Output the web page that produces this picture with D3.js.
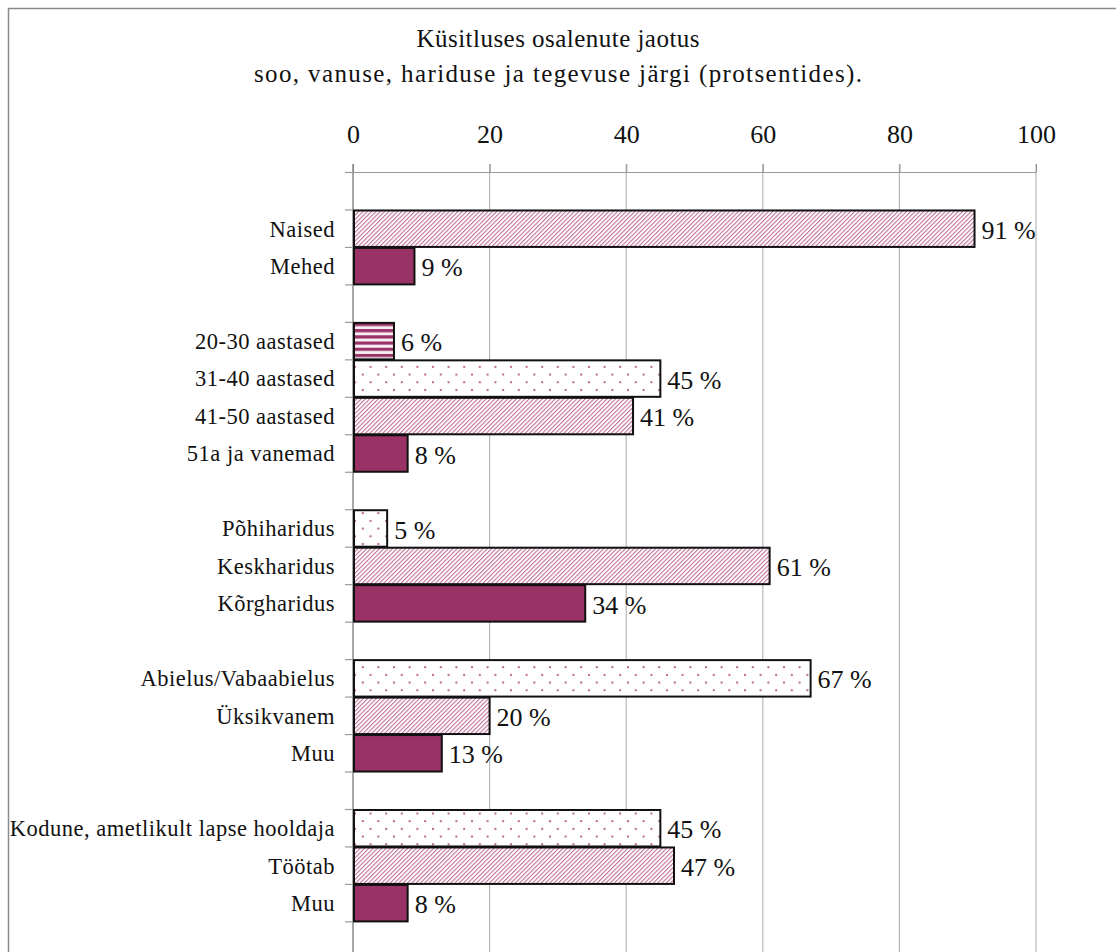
<!DOCTYPE html>
<html>
<head>
<meta charset="utf-8">
<script src="https://cdn.jsdelivr.net/npm/d3@7"></script>
<style>
  html, body { margin: 0; padding: 0; background: #fff; }
  svg { display: block; font-family: "Liberation Serif", "Times New Roman", serif; }
</style>
</head>
<body>
<svg id="chart" width="1116" height="952"></svg>
<script>
// ---- data ----
const titleLines = ["Küsitluses osalenute jaotus", "soo, vanuse, hariduse ja tegevuse järgi (protsentides)."];
const groupSex = ["Naised", "Mehed"];
const valuesSex = [91, 9];
const groupAge = ["20-30 aastased", "31-40 aastased", "41-50 aastased", "51a ja vanemad"];
const valuesAge = [6, 45, 41, 8];
const groupEdu = ["Põhiharidus", "Keskharidus", "Kõrgharidus"];
const valuesEdu = [5, 61, 34];
const groupFamily = ["Abielus/Vabaabielus", "Üksikvanem", "Muu"];
const valuesFamily = [67, 20, 13];
const groupWork = ["Kodune, ametlikult lapse hooldaja", "Töötab", "Muu"];
const valuesWork = [45, 47, 8];
const xTicks = [0, 20, 40, 60, 80, 100];

// fill style keys per group (styles, not data)
const fillSex = ["diag", "solid"];
const fillAge = ["hstripe", "dots", "diag", "solid"];
const fillEdu = ["dots", "diag", "solid"];
const fillFamily = ["dots", "diag", "solid"];
const fillWork = ["dots", "diag", "solid"];

const groups = [
  [groupSex, valuesSex, fillSex],
  [groupAge, valuesAge, fillAge],
  [groupEdu, valuesEdu, fillEdu],
  [groupFamily, valuesFamily, fillFamily],
  [groupWork, valuesWork, fillWork]
];

// build slot list: a blank slot before each group and one at the end
const slots = [];
groups.forEach(([cats, vals, fills]) => {
  slots.push({ id: slots.length, label: "", value: null });
  cats.forEach((c, i) => slots.push({ id: slots.length, label: c, value: vals[i], fill: fills[i] }));
});
slots.push({ id: slots.length, label: "", value: null });

const svg = d3.select("#chart");
const COLOR = "#993366";

// ---- patterns ----
const defs = svg.append("defs");
const pDiag = defs.append("pattern").attr("id", "diag").attr("patternUnits", "userSpaceOnUse")
  .attr("width", 3.05).attr("height", 3.05).attr("patternTransform", "rotate(45)");
pDiag.append("rect").attr("width", 3.05).attr("height", 3.05).attr("fill", "#fff");
pDiag.append("rect").attr("width", 1.1).attr("height", 3.05).attr("fill", "#c27299");

const pH = defs.append("pattern").attr("id", "hstripe").attr("patternUnits", "userSpaceOnUse")
  .attr("width", 6).attr("height", 6.2).attr("y", 0.5);
pH.append("rect").attr("width", 6).attr("height", 6.2).attr("fill", "#f6eef2");
pH.append("rect").attr("width", 6).attr("height", 3.2).attr("fill", COLOR);

const pDots = defs.append("pattern").attr("id", "dots").attr("patternUnits", "userSpaceOnUse")
  .attr("width", 15.6).attr("height", 15.4).attr("x", 2).attr("y", 3);
pDots.append("rect").attr("width", 15.6).attr("height", 15.4).attr("fill", "#fff");
pDots.append("circle").attr("cx", 2).attr("cy", 2).attr("r", 1.1).attr("fill", "#b04a80");
pDots.append("circle").attr("cx", 9.8).attr("cy", 9.7).attr("r", 1.1).attr("fill", "#b04a80");

const fillFor = k => k === "solid" ? COLOR : `url(#${k})`;

// ---- scales ----
const x = d3.scaleLinear().domain([0, 100]).range([353, 1036]);
const y = d3.scaleBand().domain(slots.map(d => d.id)).range([172.5, 172.5 + 37.47 * slots.length]).padding(0);

// outer border
svg.append("rect").attr("x", 8.5).attr("y", 8.5).attr("width", 1130).attr("height", 980)
  .attr("fill", "none").attr("stroke", "#8a8a8a").attr("stroke-width", 1.5);

// title
const titleCx = 558;
svg.append("text").attr("x", titleCx).attr("y", 47).attr("text-anchor", "middle")
  .attr("font-size", 25).attr("fill", "#111")
  .attr("textLength", 283).attr("lengthAdjust", "spacing").text(titleLines[0]);
svg.append("text").attr("x", titleCx).attr("y", 82).attr("text-anchor", "middle")
  .attr("font-size", 25).attr("fill", "#111")
  .attr("textLength", 608).attr("lengthAdjust", "spacing").text(titleLines[1]);

// gridlines
const yTop = 164, yBottom = 990;
svg.append("g").selectAll("line").data(xTicks.filter(t => t > 0)).join("line")
  .attr("x1", d => x(d)).attr("x2", d => x(d)).attr("y1", yTop).attr("y2", yBottom)
  .attr("stroke", "#b8b8b8").attr("stroke-width", 1.2);

// top axis
const axisTop = d3.axisTop(x).tickValues(xTicks).tickSize(8).tickPadding(21).tickSizeOuter(0);
const gx = svg.append("g").attr("transform", "translate(0,172)").call(axisTop);
gx.select(".domain").attr("stroke", "#9a9a9a").attr("stroke-width", 1.2);
gx.selectAll(".tick line").attr("stroke", "#9a9a9a").attr("stroke-width", 1.2);
gx.selectAll(".tick text").attr("font-size", 26).attr("font-family", "Liberation Serif, serif").attr("fill", "#111");

// left axis line
svg.append("line").attr("x1", x(0)).attr("x2", x(0)).attr("y1", yTop).attr("y2", yBottom)
  .attr("stroke", "#8a8a8a").attr("stroke-width", 1.5);

// y tick marks at band boundaries
const boundaries = slots.map(d => y(d.id));
svg.append("g").selectAll("line").data(boundaries).join("line")
  .attr("x1", x(0) - 8).attr("x2", x(0)).attr("y1", d => d).attr("y2", d => d)
  .attr("stroke", "#9a9a9a").attr("stroke-width", 1.2);

const bars = slots.filter(d => d.value !== null);

// bars
svg.append("g").selectAll("rect").data(bars).join("rect")
  .attr("x", x(0) + 1).attr("y", d => y(d.id) + 0.5)
  .attr("width", d => x(d.value) - x(0) - 1).attr("height", y.bandwidth() - 1)
  .attr("fill", d => fillFor(d.fill))
  .attr("stroke", "#111").attr("stroke-width", 2);

// category labels
svg.append("g").selectAll("text").data(bars).join("text")
  .attr("x", x(0) - 18).attr("y", d => y(d.id) + y.bandwidth() / 2)
  .attr("dy", "0.35em").attr("text-anchor", "end")
  .attr("font-size", 22.5).attr("letter-spacing", 0.5).attr("fill", "#111").text(d => d.label);

// value labels
svg.append("g").selectAll("text").data(bars).join("text")
  .attr("x", d => x(d.value) + 7).attr("y", d => y(d.id) + y.bandwidth() / 2 + 1)
  .attr("dy", "0.35em").attr("text-anchor", "start")
  .attr("font-size", 26).attr("fill", "#111").text(d => `${d.value} %`);
</script>
</body>
</html>
